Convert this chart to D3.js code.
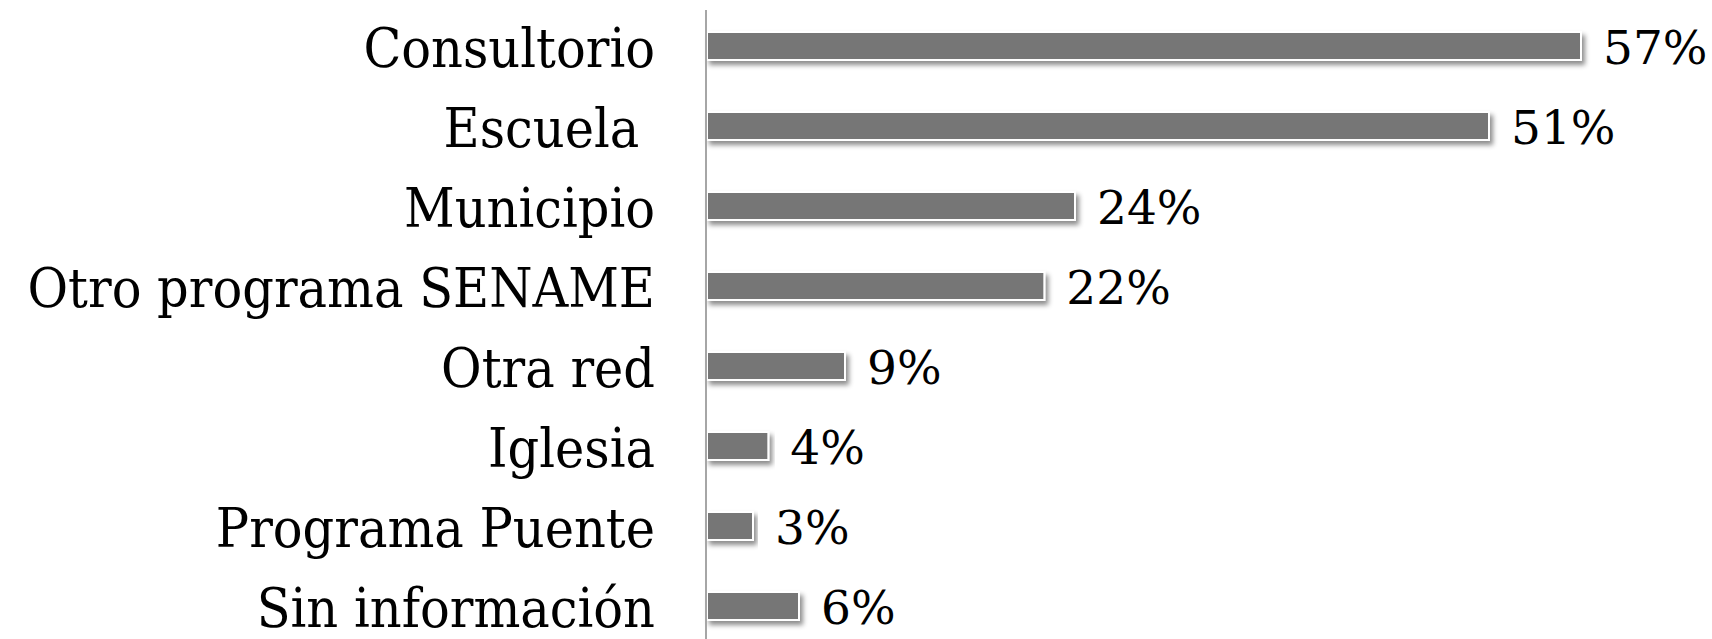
<!DOCTYPE html>
<meta charset="utf-8">
<style>
body { margin: 0; background: #fff; }
text { font-family: "DejaVu Serif", "Liberation Serif", serif; fill: #000; }
.label { font-size: 55px; white-space: pre; font-stretch: condensed; }
.value { font-size: 47px; }
.bar { fill: #767676; stroke: #fff; stroke-width: 2; }
</style>
<script src="https://d3js.org/d3.v7.min.js"></script>
<body>
<script>

var categories = ["Consultorio", "Escuela ", "Municipio", "Otro programa SENAME", "Otra red", "Iglesia", "Programa Puente", "Sin información"];
var values = [57, 51, 24, 22, 9, 4, 3, 6];

var width = 1712,
    height = 639,
    axisX = 707;

var svg = d3.select("body").append("svg")
    .attr("width", width)
    .attr("height", height);

// soft shadow under each bar
var defs = svg.append("defs");
var f = defs.append("filter").attr("id", "shadow")
    .attr("x", "-5%").attr("y", "-40%").attr("width", "115%").attr("height", "200%");
f.append("feDropShadow")
    .attr("dx", 3).attr("dy", 4)
    .attr("stdDeviation", 2.5)
    .attr("flood-color", "#000")
    .attr("flood-opacity", 0.45);

var x = d3.scaleLinear()
    .domain([0, 57])
    .range([axisX, 1581]);

var y = d3.scaleBand()
    .domain(categories)
    .range([6, 646])
    .paddingInner(0.65)
    .paddingOuter(0.325);

svg.selectAll(".bar")
    .data(values)
  .enter().append("rect")
    .attr("class", "bar")
    .attr("filter", "url(#shadow)")
    .attr("x", x(0))
    .attr("y", function(d, i) { return y(categories[i]); })
    .attr("width", function(d) { return x(d) - x(0); })
    .attr("height", y.bandwidth());

// axis line
svg.append("line")
    .attr("x1", axisX - 1).attr("x2", axisX - 1)
    .attr("y1", 10).attr("y2", height)
    .attr("stroke", "#a6a6a6")
    .attr("stroke-width", 2);

svg.selectAll(".label")
    .data(categories)
  .enter().append("text")
    .attr("class", "label")
    .attr("x", 655)
    .attr("y", function(d) { return y(d) + y.bandwidth() / 2; })
    .attr("dy", "0.38em")
    .attr("text-anchor", "end")
    .text(function(d) { return d; });

svg.selectAll(".value")
    .data(values)
  .enter().append("text")
    .attr("class", "value")
    .attr("x", function(d) { return x(d) + 22; })
    .attr("y", function(d, i) { return y(categories[i]) + y.bandwidth() / 2; })
    .attr("dy", "0.38em")
    .text(function(d) { return d + "%"; });

</script>
</body>
